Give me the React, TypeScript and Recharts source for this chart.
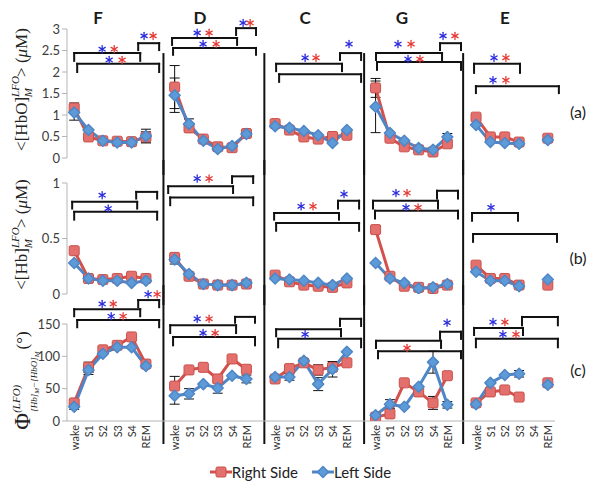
import React from "react";
import { LineChart, Line, XAxis, YAxis, ReferenceLine, ReferenceDot, ErrorBar } from "recharts";

const groups = ["F", "D", "C", "G", "E"];
const stages = ["wake", "S1", "S2", "S3", "S4", "REM"];
const sides = ["Right Side", "Left Side"];
const rowNames = ["(a)", "(b)", "(c)"];

const none = [null, null, null, null, null, null];

// (a) <[HbO]>, uM
const hboRight = [
  [1.16, 0.49, 0.4, 0.39, 0.38, 0.49],
  [1.65, 0.7, 0.44, 0.26, 0.24, 0.57],
  [0.8, 0.65, 0.49, 0.44, 0.5, 0.53],
  [1.63, 0.46, 0.26, 0.19, 0.14, 0.33],
  [0.95, 0.49, 0.49, 0.37, null, 0.46],
];
const hboLeft = [
  [1.06, 0.65, 0.4, 0.36, 0.36, 0.51],
  [1.46, 0.79, 0.4, 0.21, 0.28, 0.56],
  [0.74, 0.7, 0.63, 0.53, 0.35, 0.65],
  [1.19, 0.58, 0.4, 0.23, 0.19, 0.49],
  [0.77, 0.37, 0.35, 0.33, null, 0.42],
];
const hboRightErr = [[0.12, null, null, null, null, 0.12], [0.5, null, null, null, null, null], none, [0.22, null, null, null, null, null], none];
const hboLeftErr = [[0.18, null, null, null, null, 0.16], [0.4, 0.12, null, null, null, null], none, [0.6, null, null, null, null, 0.08], none];

// (b) <[Hb]>, uM
const hbRight = [
  [0.39, 0.14, 0.13, 0.14, 0.16, 0.14],
  [0.33, 0.16, 0.09, 0.08, 0.08, 0.09],
  [0.17, 0.11, 0.08, 0.07, 0.06, 0.1],
  [0.58, 0.16, 0.07, 0.06, 0.05, 0.08],
  [0.26, 0.14, 0.14, 0.08, null, 0.08],
];
const hbLeft = [
  [0.28, 0.14, 0.12, 0.12, 0.1, 0.12],
  [0.31, 0.18, 0.09, 0.08, 0.08, 0.1],
  [0.14, 0.13, 0.12, 0.1, 0.08, 0.14],
  [0.28, 0.14, 0.1, 0.05, 0.06, 0.09],
  [0.2, 0.12, 0.12, 0.07, null, 0.13],
];
const hbRightErr = [none, none, none, [0.03, null, null, null, null, null], none];
const hbLeftErr = [none, [0.04, null, null, null, null, null], none, none, none];

// (c) phase difference, degrees
const phiRight = [
  [28, 83, 110, 117, 130, 88],
  [54, 79, 83, 65, 96, 80],
  [65, 81, 90, 79, 83, 90],
  [6, 11, 59, 45, 28, 70],
  [28, 45, 48, 37, null, 59],
];
const phiLeft = [
  [22, 79, 104, 114, 114, 85],
  [39, 42, 57, 51, 70, 65],
  [68, 68, 93, 57, 80, 107],
  [9, 26, 22, 53, 91, 25],
  [26, 59, 71, 73, null, 56],
];
const phiRightErr = [[5, 8, null, null, null, null], [15, null, null, null, null, null], [null, null, null, 8, null, null], [null, null, null, null, 10, null], none];
const phiLeftErr = [[4, 7, null, null, null, null], [13, 8, null, 8, null, 6], [null, 5, null, 10, 12, null], [null, 7, null, null, 17, 5], [null, null, null, 5, null, null]];

// significance brackets: [from, to, level, tick end]
const bracketsA = [
  [0, 4.6, 2.44, 2.26], [4.46, 5.92, 2.67, 2.51], [0.21, 5.92, 2.19, 2.0],
  [6.82, 11.35, 2.79, 2.63], [11.28, 12.67, 3.02, 2.86], [6.89, 12.67, 2.56, 2.4],
  [14.07, 18.66, 2.19, 2.02], [18.52, 19.99, 2.44, 2.28], [14.28, 19.99, 1.95, 1.77],
  [21.03, 25.63, 2.44, 2.28], [25.49, 26.95, 2.67, 2.51], [21.1, 26.95, 2.23, 2.05],
  [27.86, 31.06, 2.19, 1.98], [27.99, 33.77, 1.67, 1.51],
];
const bracketsB = [
  [-0.14, 4.39, 0.83, 0.77], [4.32, 5.78, 0.92, 0.86], [0, 5.78, 0.74, 0.67],
  [6.55, 11.07, 0.97, 0.91], [11.0, 12.47, 1.06, 1.0], [6.69, 12.47, 0.87, 0.8],
  [13.93, 18.45, 0.73, 0.67], [18.38, 19.85, 0.84, 0.77], [14.07, 19.85, 0.64, 0.57],
  [20.82, 25.35, 0.84, 0.77], [25.28, 26.74, 0.93, 0.86], [20.96, 26.74, 0.75, 0.68],
  [27.72, 30.92, 0.73, 0.66], [27.79, 33.64, 0.54, 0.47],
];
const bracketsC = [
  [0, 4.6, 173, 162], [4.46, 5.92, 187, 176], [0.21, 5.92, 156, 145],
  [6.69, 11.28, 148, 136], [11.21, 12.6, 161, 152], [6.89, 12.6, 130, 117],
  [14.07, 18.59, 142, 131], [18.52, 19.99, 158, 147], [14.21, 19.99, 127, 114],
  [21.03, 25.56, 124, 113], [25.49, 26.95, 138, 127], [21.17, 26.95, 108, 97],
  [27.86, 31.27, 144, 133], [31.2, 33.7, 161, 148], [27.99, 33.7, 127, 114],
];

// asterisks: [x, y, side] L = left (blue), R = right (red)
const starsA: [number, number, string][] = [
  [1.95, 2.53, "L"], [2.79, 2.53, "R"], [2.44, 2.28, "L"], [3.34, 2.28, "R"], [4.87, 2.84, "L"], [5.5, 2.84, "R"],
  [8.57, 2.91, "L"], [9.4, 2.91, "R"], [8.98, 2.65, "L"], [9.89, 2.65, "R"], [11.77, 3.14, "L"], [12.26, 3.14, "R"],
  [16.09, 2.33, "L"], [16.85, 2.33, "R"], [19.15, 2.65, "L"],
  [22.56, 2.65, "L"], [23.47, 2.65, "R"], [23.26, 2.3, "L"], [24.09, 2.3, "R"], [25.7, 2.84, "L"], [26.53, 2.84, "R"],
  [29.25, 2.33, "L"], [30.08, 2.33, "R"], [29.18, 1.81, "L"], [30.08, 1.81, "R"],
];
const starsB: [number, number, string][] = [
  [1.95, 0.89, "L"], [2.37, 0.77, "L"],
  [8.57, 1.04, "L"], [9.4, 1.04, "R"],
  [15.81, 0.79, "L"], [16.64, 0.79, "R"], [18.8, 0.9, "L"],
  [22.42, 0.91, "L"], [23.19, 0.91, "R"], [23.12, 0.78, "L"], [23.96, 0.78, "R"],
  [29.04, 0.78, "L"],
];
const starsC: [number, number, string][] = [
  [1.95, 181, "L"], [2.72, 181, "R"], [2.58, 162, "L"], [3.41, 162, "R"], [5.15, 196, "L"], [5.78, 196, "R"],
  [8.57, 158, "L"], [9.4, 158, "R"], [8.98, 136, "L"], [9.82, 136, "R"],
  [16.09, 134, "L"],
  [23.19, 113, "R"], [25.98, 152, "L"],
  [29.18, 153, "L"], [30.01, 153, "R"], [29.87, 134, "L"], [30.78, 134, "R"],
];

const titleX = [1.67, 8.77, 16.09, 22.84, 30.01];
const sepX = [6.22, 13.25, 20.2, 27.1];

const RED = "#d3514d";
const BLUE = "#4f86c6";
const STAR_BLUE = "#2b2bdc";
const STAR_RED = "#e53935";
const SERIF = "'Liberation Serif', 'DejaVu Serif', serif";
const SANS = "Lato, 'Open Sans', sans-serif";

const tickIdx = groups.flatMap((_, g) => stages.map((_, s) => g * 7 + s));

function buildRows(right: any[][], left: any[][], rErr: any[][], lErr: any[][]) {
  const rows: any[] = [];
  groups.forEach((_, g) => {
    stages.forEach((_, s) => rows.push({ i: g * 7 + s, r: right[g][s], l: left[g][s], re: rErr[g][s], le: lErr[g][s] }));
    if (g < groups.length - 1) rows.push({ i: g * 7 + 6, r: null, l: null, re: null, le: null });
  });
  return rows;
}

const dataA = buildRows(hboRight, hboLeft, hboRightErr, hboLeftErr);
const dataB = buildRows(hbRight, hbLeft, hbRightErr, hbLeftErr);
const dataC = buildRows(phiRight, phiLeft, phiRightErr, phiLeftErr);

const squareDot = (p: any) =>
  p.cy == null ? (
    <g key={p.index} />
  ) : (
    <rect key={p.index} x={p.cx - 5} y={p.cy - 5} width={10} height={10} rx={1.5} fill="#e3706c" stroke="#c8504c" strokeWidth={1} />
  );

const diamondDot = (p: any) =>
  p.cy == null ? (
    <g key={p.index} />
  ) : (
    <path
      key={p.index}
      d={`M${p.cx},${p.cy - 5.5}L${p.cx + 5.5},${p.cy}L${p.cx},${p.cy + 5.5}L${p.cx - 5.5},${p.cy}Z`}
      fill="#5d9ad8"
      stroke="#4f86c6"
      strokeWidth={1.5}
      strokeLinejoin="round"
    />
  );

const Star = ({ cx, cy, color }: any) => (
  <g stroke={color} strokeWidth={1.3} strokeLinecap="round">
    <line x1={cx} y1={cy - 3.6} x2={cx} y2={cy + 3.6} />
    <line x1={cx - 3.1} y1={cy - 1.8} x2={cx + 3.1} y2={cy + 1.8} />
    <line x1={cx - 3.1} y1={cy + 1.8} x2={cx + 3.1} y2={cy - 1.8} />
  </g>
);

const StageTick = ({ x, y, payload }: any) => (
  <text transform={`translate(${x},${y}) rotate(-90)`} textAnchor="end" dominantBaseline="central" fontSize={11} fill="#333" fontFamily={SANS}>
    {stages[payload.value % 7]}
  </text>
);

const HboLabel = ({ viewBox }: any) => (
  <text transform={`translate(${viewBox.x + 27},${viewBox.y + viewBox.height / 2 - 4}) rotate(-90)`} textAnchor="middle" fontFamily={SERIF} fontSize={17} fill="#222">
    <tspan>&lt;[HbO]</tspan>
    <tspan fontSize={11} fontStyle="italic" dy={-8}>LFO</tspan>
    <tspan fontSize={11} fontStyle="italic" dx={-21} dy={13}>M</tspan>
    <tspan dx={11} dy={-5}>&gt; (</tspan>
    <tspan fontStyle="italic">μ</tspan>
    <tspan>M)</tspan>
  </text>
);

const HbLabel = ({ viewBox }: any) => (
  <text transform={`translate(${viewBox.x + 27},${viewBox.y + viewBox.height / 2 - 4}) rotate(-90)`} textAnchor="middle" fontFamily={SERIF} fontSize={17} fill="#222">
    <tspan>&lt;[Hb]</tspan>
    <tspan fontSize={11} fontStyle="italic" dy={-8}>LFO</tspan>
    <tspan fontSize={11} fontStyle="italic" dx={-21} dy={13}>M</tspan>
    <tspan dx={11} dy={-5}>&gt; (</tspan>
    <tspan fontStyle="italic">μ</tspan>
    <tspan>M)</tspan>
  </text>
);

const PhiLabel = ({ viewBox }: any) => (
  <text transform={`translate(${viewBox.x + 30},${viewBox.y + viewBox.height / 2 + 8}) rotate(-90)`} textAnchor="middle" fontFamily={SERIF} fontSize={17} fill="#222">
    <tspan fontSize={23}>Φ</tspan>
    <tspan fontSize={11} fontStyle="italic" dy={-10}>(LFO)</tspan>
    <tspan fontSize={9} fontStyle="italic" dx={-27} dy={17}>[Hb]</tspan>
    <tspan fontSize={7} fontStyle="italic" dy={2}>M</tspan>
    <tspan fontSize={9} fontStyle="italic" dy={-2}>−[HbO]</tspan>
    <tspan fontSize={7} fontStyle="italic" dy={2}>M</tspan>
    <tspan dx={2} dy={-11}>(°)</tspan>
  </text>
);

const bracketLines = (b: number[], k: string) => {
  const [x1, x2, y, y2] = b;
  const common = { stroke: "#111", strokeWidth: 2, ifOverflow: "visible" as const, strokeLinecap: "square" as const };
  return [
    <ReferenceLine key={k + "h"} segment={[{ x: x1, y }, { x: x2, y }]} {...common} />,
    <ReferenceLine key={k + "l"} segment={[{ x: x1, y }, { x: x1, y: y2 }]} {...common} />,
    <ReferenceLine key={k + "r"} segment={[{ x: x2, y }, { x: x2, y: y2 }]} {...common} />,
  ];
};

const textDot = (x: number, y: number, text: string, k: string, bold: boolean, size: number) => (
  <ReferenceDot
    key={k}
    x={x}
    y={y}
    r={1}
    ifOverflow="visible"
    shape={(p: any) => (
      <text x={p.cx} y={p.cy} textAnchor="middle" dominantBaseline="central" fontFamily={SANS} fontWeight={bold ? 700 : 400} fontSize={size} fill="#1a1a1a">
        {text}
      </text>
    )}
  />
);

function Panel(props: any) {
  const { top, height, mTop, mBottom, data, domain, yTicks, brackets, stars, Label, sep, showX, rowLabel, titles, k } = props;
  return (
    <div style={{ position: "absolute", left: 0, top }}>
      <LineChart width={601} height={height} data={data} margin={{ top: mTop, right: 46, bottom: mBottom, left: 0 }}>
        <XAxis
          type="number"
          dataKey="i"
          domain={[-0.5, 33.5]}
          ticks={tickIdx}
          interval={0}
          hide={!showX}
          height={40}
          tickSize={2}
          tickMargin={2}
          tickLine={false}
          axisLine={{ stroke: "#b5b5b5" }}
          tick={(p: any) => <StageTick key={p.index} {...p} />}
          allowDataOverflow
        />
        <YAxis
          type="number"
          domain={domain}
          ticks={yTicks}
          interval={0}
          width={67}
          tickSize={5}
          tick={{ fontSize: 13, fill: "#3c3c3c", fontFamily: SANS }}
          tickLine={{ stroke: "#b5b5b5" }}
          axisLine={{ stroke: "#b5b5b5" }}
          allowDataOverflow
          label={(p: any) => <Label viewBox={p.viewBox} />}
        />
        {sepX.map((x, n) => (
          <ReferenceLine key={k + "sep" + n} segment={[{ x, y: sep[0] }, { x, y: sep[1] }]} stroke="#111" strokeWidth={2} ifOverflow="visible" />
        ))}
        {brackets.flatMap((b: number[], n: number) => bracketLines(b, k + "b" + n))}
        {stars.map(([x, y, s]: any, n: number) => (
          <ReferenceDot
            key={k + "s" + n}
            x={x}
            y={y}
            r={4}
            ifOverflow="visible"
            shape={(p: any) => <Star cx={p.cx} cy={p.cy} color={s === "L" ? STAR_BLUE : STAR_RED} />}
          />
        ))}
        {titles}
        {textDot(35.1, rowLabel[0], rowLabel[1], k + "row", false, 16)}
        <Line dataKey="r" name={sides[0]} stroke={RED} strokeWidth={3} dot={squareDot} isAnimationActive={false}>
          <ErrorBar dataKey="re" width={5} stroke="#111" strokeWidth={1} direction="y" isAnimationActive={false} />
        </Line>
        <Line dataKey="l" name={sides[1]} stroke={BLUE} strokeWidth={3} dot={diamondDot} isAnimationActive={false}>
          <ErrorBar dataKey="le" width={5} stroke="#111" strokeWidth={1} direction="y" isAnimationActive={false} />
        </Line>
      </LineChart>
    </div>
  );
}

const LegendItem = ({ color, label, square }: any) => (
  <div style={{ display: "flex", alignItems: "center" }}>
    <svg width={22} height={14}>
      <line x1={0} y1={7} x2={22} y2={7} stroke={color} strokeWidth={3} />
      {square ? (
        <rect x={6} y={2} width={10} height={10} rx={1.5} fill="#e3706c" stroke="#c8504c" />
      ) : (
        <path d="M11,1.5L16.5,7L11,12.5L5.5,7Z" fill="#5d9ad8" stroke={color} strokeWidth={1.5} strokeLinejoin="round" />
      )}
    </svg>
    <span style={{ color: "#222" }}>{label}</span>
  </div>
);

export default function App() {
  return (
    <div style={{ position: "absolute", left: 0, top: 0, width: 601, height: 492, background: "#fff", overflow: "hidden" }}>
      <Panel
        k="a"
        top={0}
        height={175}
        mTop={29}
        mBottom={17}
        data={dataA}
        domain={[0, 3]}
        yTicks={[0, 0.5, 1, 1.5, 2, 2.5, 3]}
        brackets={bracketsA}
        stars={starsA}
        Label={HboLabel}
        sep={[2.44, -1]}
        rowLabel={[1.07, rowNames[0]]}
        titles={groups.map((g, n) => textDot(titleX[n], 3.26, g, "t" + n, true, 17))}
      />
      <Panel
        k="b"
        top={160}
        height={145}
        mTop={23}
        mBottom={11}
        data={dataB}
        domain={[0, 1]}
        yTicks={[0, 0.5, 1]}
        brackets={bracketsB}
        stars={starsB}
        Label={HbLabel}
        sep={[2, -1]}
        rowLabel={[0.33, rowNames[1]]}
        titles={null}
      />
      <Panel
        k="c"
        top={285}
        height={207}
        mTop={39}
        mBottom={31}
        data={dataC}
        domain={[0, 150]}
        yTicks={[0, 50, 100, 150]}
        brackets={bracketsC}
        stars={starsC}
        Label={PhiLabel}
        sep={[300, -35.6]}
        showX
        rowLabel={[79, rowNames[2]]}
        titles={null}
      />
      <div style={{ position: "absolute", left: 0, top: 463, width: 601, display: "flex", justifyContent: "center", gap: 14, fontFamily: SANS, fontSize: 15 }}>
        <LegendItem color={RED} label={sides[0]} square />
        <LegendItem color={BLUE} label={sides[1]} />
      </div>
    </div>
  );
}
